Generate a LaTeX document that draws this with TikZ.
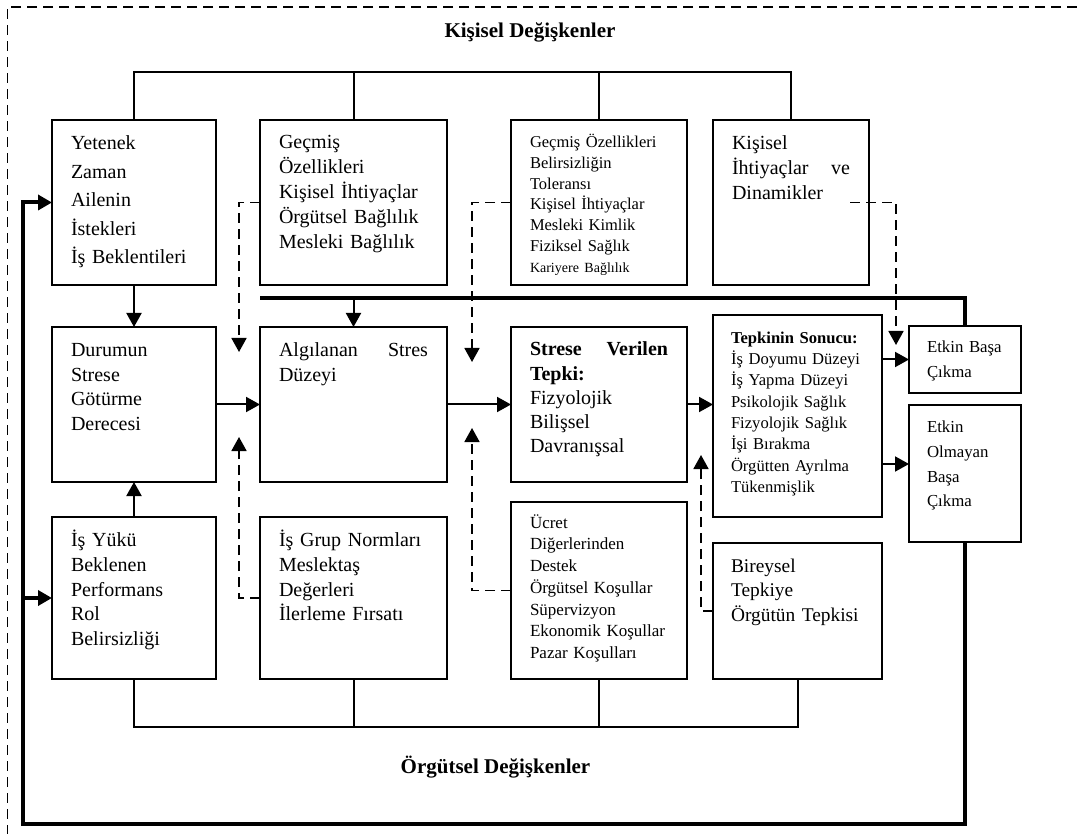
\documentclass[tikz,border=0pt]{standalone}
\usepackage{fontspec}
\setmainfont{Liberation Serif}
\usetikzlibrary{arrows.meta}

\newcommand{\yazi}[2]{\fontsize{#1}{#2}\selectfont}

\tikzset{
  kutu/.style={draw, line width=1.15pt, outer sep=0pt, anchor=north west,
    inner xsep=9.5pt, inner ysep=0pt, align=left},
  cizgi/.style={line width=1pt},
  kalin/.style={line width=2pt},
  kesik/.style={line width=0.9pt, dash pattern=on 5pt off 3pt},
  ok/.style={-{Triangle[length=7pt,width=7.5pt]}},
  baslik/.style={font={\yazi{10.5}{12}\bfseries}, anchor=base}
}

\begin{document}
\begin{tikzpicture}[x=1pt, y=-1pt]
\useasboundingbox (0,0) rectangle (538.5,417);
% dis cerceve
\draw[kesik] (538.5,3.5) -- (3.7,3.5) -- (3.7,417);

\node[baslik] (kisisel) at (265,18.8) {Kişisel Değişkenler};
\node[baslik] (orgutsel) at (247.75,386.5) {Örgütsel Değişkenler};

% ust sira
\node[kutu, text width=63pt, text height=15pt, text depth=67.5pt, font={\yazi{10}{14.2}}] (yetenek) at (26,60)
  {Yetenek\\Zaman\\Ailenin\\İstekleri\\İş Beklentileri};
\node[kutu, text width=74.5pt, text height=14.5pt, text depth=68pt, font={\yazi{10}{12.4}}] (gecmis) at (130,60)
  {Geçmiş\\Özellikleri\\Kişisel İhtiyaçlar\\Örgütsel Bağlılık\\Mesleki Bağlılık};
\node[kutu, text width=69pt, text height=13.8pt, text depth=68.7pt, font={\yazi{8.25}{10.4}}] (tolerans) at (255.5,60)
  {Geçmiş Özellikleri\\Belirsizliğin\\Toleransı\\Kişisel İhtiyaçlar\\Mesleki Kimlik\\Fiziksel Sağlık\\{\yazi{7}{10.4}Kariyere Bağlılık}};
\node[kutu, text width=59pt, text height=15pt, text depth=67.5pt, font={\yazi{10}{12.35}}] (dinamik) at (356.5,60)
  {Kişisel\\İhtiyaçlar\hfill ve\\Dinamikler};

% orta sira
\node[kutu, text width=63pt, text height=15pt, text depth=62.5pt, font={\yazi{10}{12.2}}] (durum) at (26,163.5)
  {Durumun\\Strese\\Götürme\\Derecesi};
\node[kutu, text width=74.5pt, text height=15pt, text depth=62.5pt, font={\yazi{10}{12.3}}] (algi) at (130,163.5)
  {Algılanan\hfill Stres\\Düzeyi};
\node[kutu, text width=69pt, text height=14.5pt, text depth=63pt, font={\yazi{10}{12.1}}] (tepki) at (255.5,163.5)
  {\textbf{Strese\hfill Verilen}\\\textbf{Tepki:}\\Fizyolojik\\Bilişsel\\Davranışsal};
\node[kutu, inner xsep=9pt, text width=66.5pt, text height=14.2pt, text depth=86.8pt, font={\yazi{8.3}{10.65}}] (sonuc) at (356.5,157.5)
  {\textbf{Tepkinin Sonucu:}\\İş Doyumu Düzeyi\\İş Yapma Düzeyi\\Psikolojik Sağlık\\Fizyolojik Sağlık\\İşi Bırakma\\Örgütten Ayrılma\\Tükenmişlik};
\node[kutu, inner xsep=9pt, text width=38pt, text height=13.3pt, text depth=20.2pt, font={\yazi{8.4}{12.5}}] (etkin) at (454.5,163)
  {Etkin Başa\\Çıkma};
\node[kutu, inner xsep=9pt, text width=38pt, text height=13.8pt, text depth=54.7pt, font={\yazi{8.4}{12.35}}] (etkisiz) at (454.5,202.5)
  {Etkin\\Olmayan\\Başa\\Çıkma};

% alt sira
\node[kutu, text width=63pt, text height=14.8pt, text depth=66.2pt, font={\yazi{10}{12.35}}] (isyuku) at (26,258.5)
  {İş Yükü\\Beklenen\\Performans\\Rol\\Belirsizliği};
\node[kutu, text width=74.5pt, text height=14.8pt, text depth=66.2pt, font={\yazi{10}{12.35}}] (normlar) at (130,258.5)
  {İş Grup Normları\\Meslektaş\\Değerleri\\İlerleme Fırsatı};
\node[kutu, text width=69pt, text height=13pt, text depth=75.5pt, font={\yazi{8.5}{10.9}}] (ucret) at (255.5,251)
  {Ücret\\Diğerlerinden\\Destek\\Örgütsel Koşullar\\Süpervizyon\\Ekonomik Koşullar\\Pazar Koşulları};
\node[kutu, inner xsep=9pt, text width=66.5pt, text height=14.7pt, text depth=53.3pt, font={\yazi{9.7}{12.25}}] (bireysel) at (356.5,271.5)
  {Bireysel\\Tepkiye\\Örgütün Tepkisi};

% ust ve alt baglar
\coordinate (ust) at (0,36);
\coordinate (alt) at (0,363.5);
\draw[cizgi] (yetenek.north) |- (ust -| dinamik.north) -- (dinamik.north);
\draw[cizgi] (gecmis.north) -- (gecmis.north |- ust);
\draw[cizgi] (tolerans.north) -- (tolerans.north |- ust);
\draw[cizgi] (isyuku.south) |- (alt -| bireysel.south) -- (bireysel.south);
\draw[cizgi] (normlar.south) -- (normlar.south |- alt);
\draw[cizgi] (ucret.south) -- (ucret.south |- alt);

% oklar
\draw[cizgi,ok] (yetenek.south) -- (durum.north);
\draw[cizgi,ok] (isyuku.north) -- (durum.south);
\draw[cizgi,ok] (durum.east) -- (algi.west);
\draw[cizgi,ok] (algi.east) -- (tepki.west);
\draw[cizgi,ok] (tepki.east) -- (tepki.east -| sonuc.west);
\draw[cizgi,ok] (etkin.west -| sonuc.east) -- (etkin.west);
\coordinate (e2) at ([yshift=4.75pt]etkisiz.west);
\draw[cizgi,ok] (e2 -| sonuc.east) -- (e2);

% kalin cizgiler
\coordinate (kalinust) at (0,149);
\coordinate (geri) at (11.5,412);
\draw[kalin] (gecmis.west |- kalinust) -| (etkin.north);
\draw[cizgi,ok] (algi.north |- kalinust) -- (algi.north);
\draw[kalin,ok] (etkisiz.south) |- (geri) |- (yetenek.west);
\draw[kalin,ok] (geri |- isyuku.west) -- (isyuku.west);

% kesik oklar
\coordinate (k1) at (119.5,176);
\coordinate (k2) at (119.5,218.5);
\coordinate (k3) at (236,181);
\coordinate (k4) at (236,214);
\coordinate (k5) at (448,172.5);
\coordinate (k6) at (350.5,227.5);
\draw[kesik,ok] (gecmis.west) -| (k1);
\draw[kesik,ok] (normlar.west) -| (k2);
\draw[kesik,ok] (tolerans.west) -| (k3);
\draw[kesik,ok] (ucret.west) -| (k4);
\draw[kesik,ok] ([xshift=-9.5pt]dinamik.east) -| (k5);
\draw[kesik,ok] (bireysel.west) -| (k6);
\end{tikzpicture}
\end{document}
